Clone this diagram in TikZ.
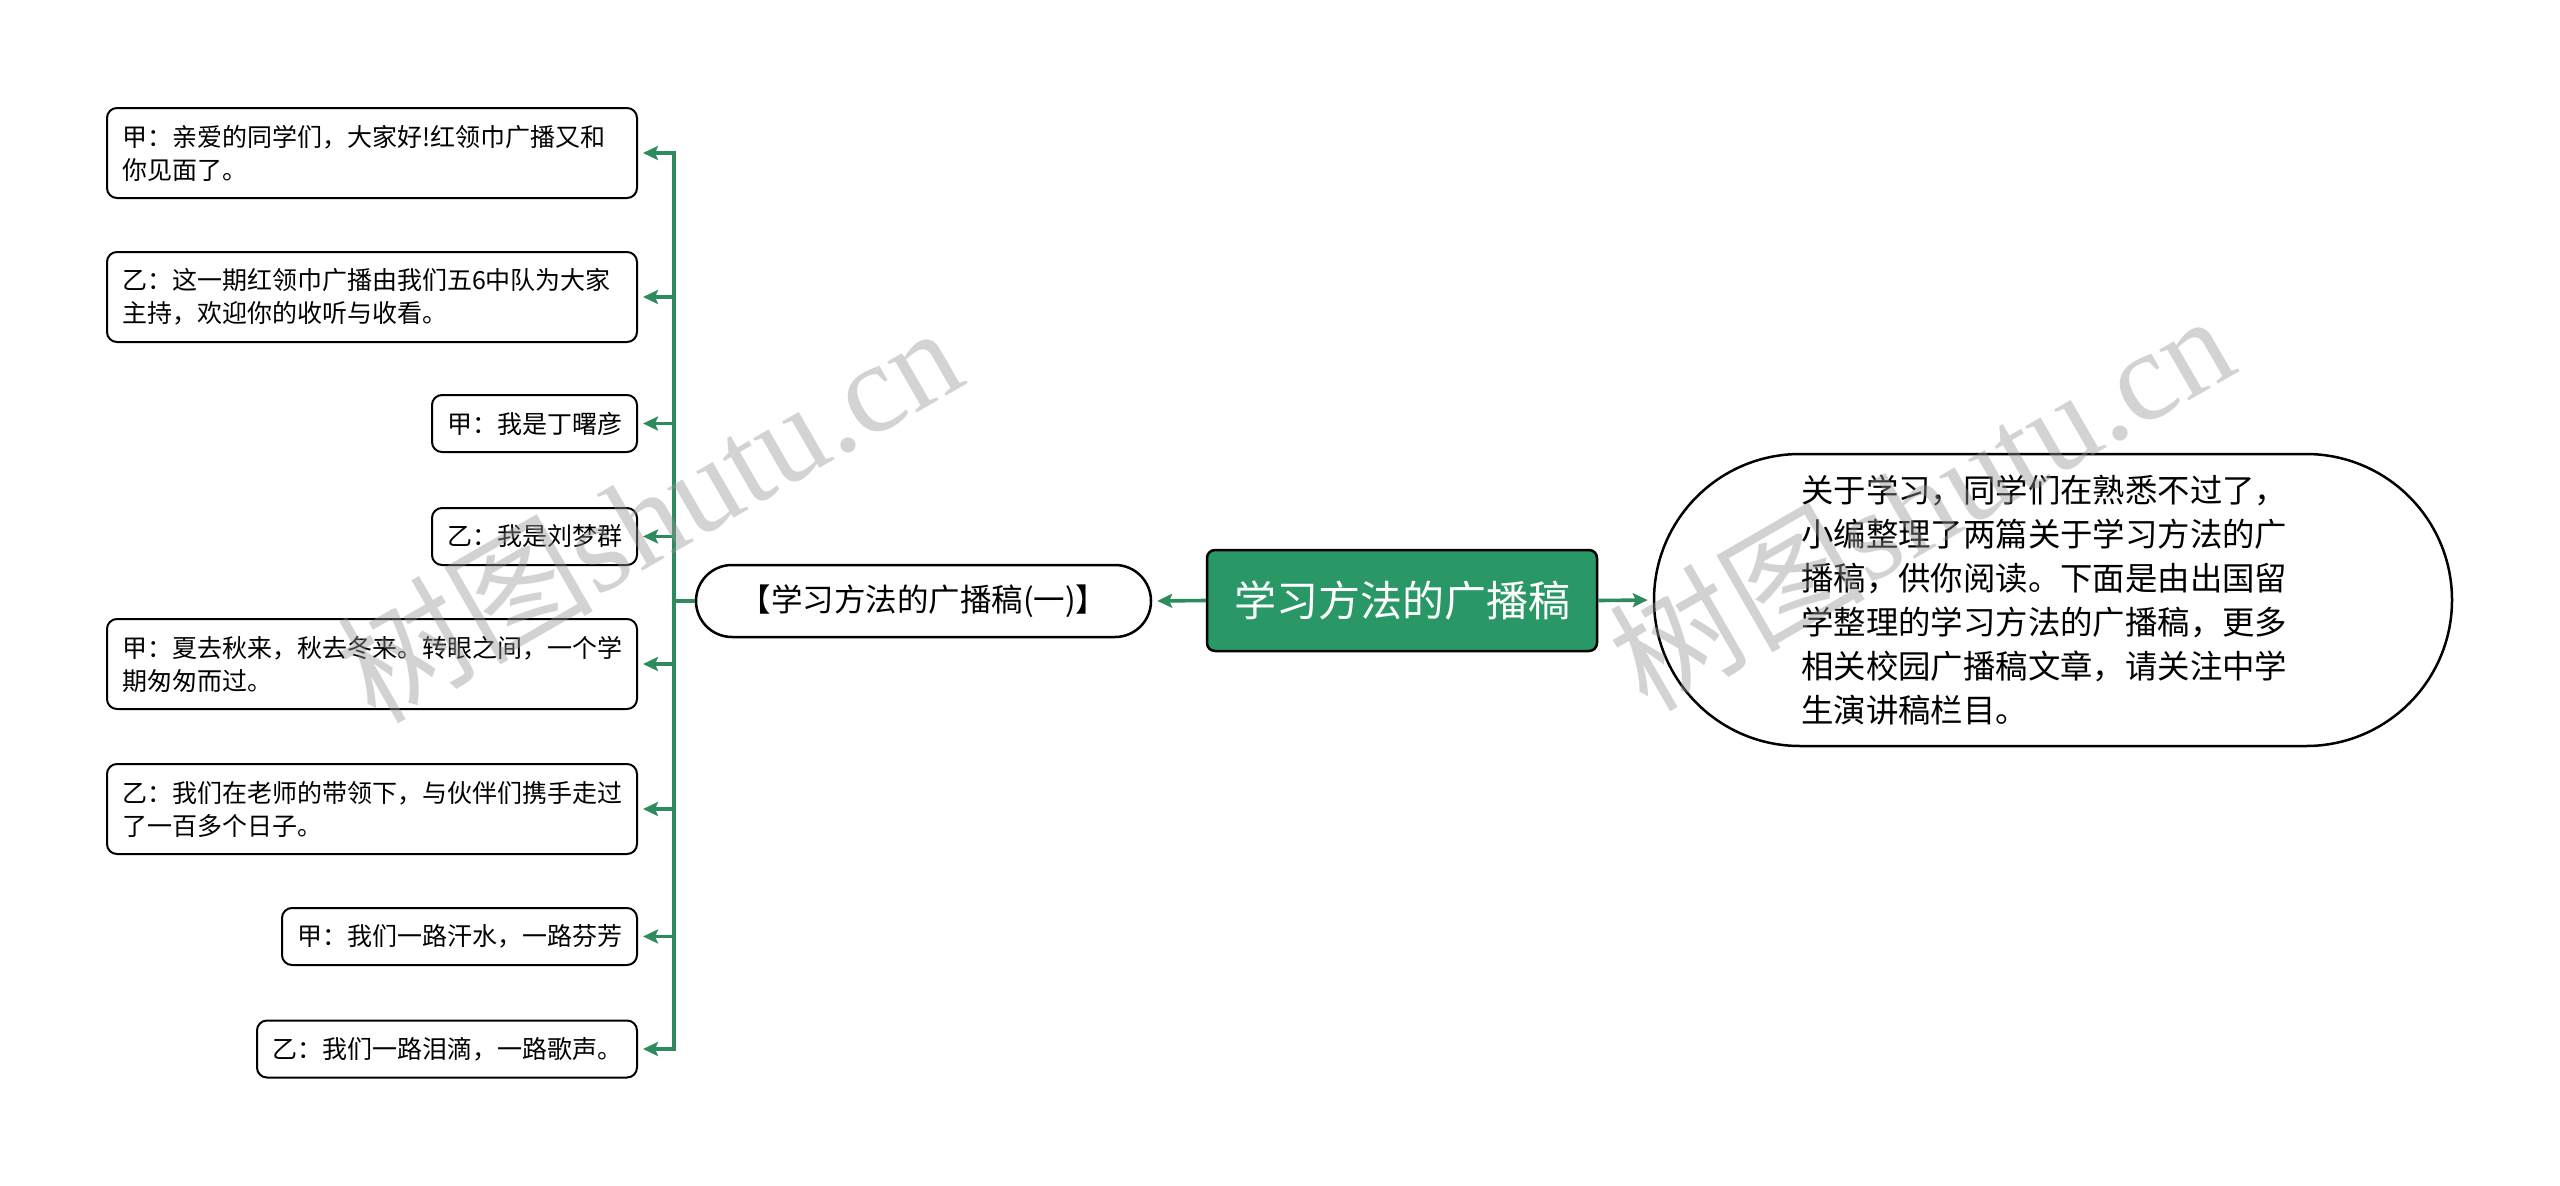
\documentclass[tikz,border=0pt]{standalone}
\usepackage{fontspec}
\setmainfont{Noto Sans CJK SC}
\newfontfamily\wmserif{Liberation Serif}
\usetikzlibrary{arrows.meta}
\definecolor{rootgreen}{RGB}{42,152,102}
\definecolor{linegreen}{RGB}{46,139,94}
\definecolor{wmgray}{RGB}{150,150,150}
\begin{document}
\begin{tikzpicture}[x=1pt,y=1pt,
  leaf/.style={draw=black, line width=2pt, rounded corners=10pt, fill=white,
    inner xsep=15pt, inner ysep=0pt, align=left, anchor=east,
    font=\fontsize{25}{33}\selectfont},
  oneline/.style={minimum height=57pt},
  twoline/.style={minimum height=90pt, text width=500pt},
  conn/.style={draw=linegreen, line width=3.6pt},
  arr/.style={conn, -{Stealth[length=15pt,width=14pt,inset=3pt]}, shorten >=5pt},
  wm/.style={text=wmgray, text opacity=0.42, rotate=30, font=\fontsize{128}{128}\selectfont}
]
\useasboundingbox (0,0) rectangle (2560,-1186);

% root
\node[draw=black, line width=2.5pt, rounded corners=8pt, fill=rootgreen, text=white,
  minimum width=390pt, minimum height=101pt, inner sep=0pt,
  font=\fontsize{42}{42}\selectfont] (root) at (1402,-600.5) {学习方法的广播稿};

% right description
\node[draw=black, line width=2.5pt, rounded corners=146pt, fill=white,
  minimum width=798pt, minimum height=292pt, inner sep=0pt] (desc) at (2053,-600) {};
\node[align=left, inner sep=0pt, font=\fontsize{32.4}{44}\selectfont, anchor=west]
  (desctext) at (1801,-600) {关于学习，同学们在熟悉不过了，\\小编整理了两篇关于学习方法的广\\播稿，供你阅读。下面是由出国留\\学整理的学习方法的广播稿，更多\\相关校园广播稿文章，请关注中学\\生演讲稿栏目。};

% sub topic
\node[draw=black, line width=2.5pt, rounded corners=36pt, fill=white,
  minimum width=455pt, minimum height=72pt, inner sep=0pt,
  font=\fontsize{31.5}{31.5}\selectfont] (sub) at (923.5,-601) {【学习方法的广播稿(一)】};

% leaves
\node[leaf, twoline] (l1) at (638,-153) {甲：亲爱的同学们，大家好!红领巾广播又和\\你见面了。};
\node[leaf, twoline] (l2) at (638,-297) {乙：这一期红领巾广播由我们五6中队为大家\\主持，欢迎你的收听与收看。};
\node[leaf, oneline] (l3) at (638,-423.5) {甲：我是丁曙彦};
\node[leaf, oneline] (l4) at (638,-536.5) {乙：我是刘梦群};
\node[leaf, twoline] (l5) at (638,-664) {甲：夏去秋来，秋去冬来。转眼之间，一个学\\期匆匆而过。};
\node[leaf, twoline] (l6) at (638,-809) {乙：我们在老师的带领下，与伙伴们携手走过\\了一百多个日子。};
\node[leaf, oneline] (l7) at (638,-936.5) {甲：我们一路汗水，一路芬芳};
\node[leaf, oneline] (l8) at (638,-1049) {乙：我们一路泪滴，一路歌声。};

% connectors
\draw[arr] (root.west) -- (sub.east);
\draw[arr] (root.east) -- (desc.west);
\coordinate (trunk) at (674,-601);
\draw[conn] (sub.west) -- (trunk);
\foreach \n in {l1,l2,l3,l4,l5,l6,l7,l8}{
  \draw[arr] (trunk) |- (\n.east);
}

% watermarks (on top, translucent)
\node[wm] (wm1) at (648,-512) {树图{\wmserif shutu.cn}};
\node[wm] (wm2) at (1920,-500) {树图{\wmserif shutu.cn}};
\end{tikzpicture}
\end{document}
